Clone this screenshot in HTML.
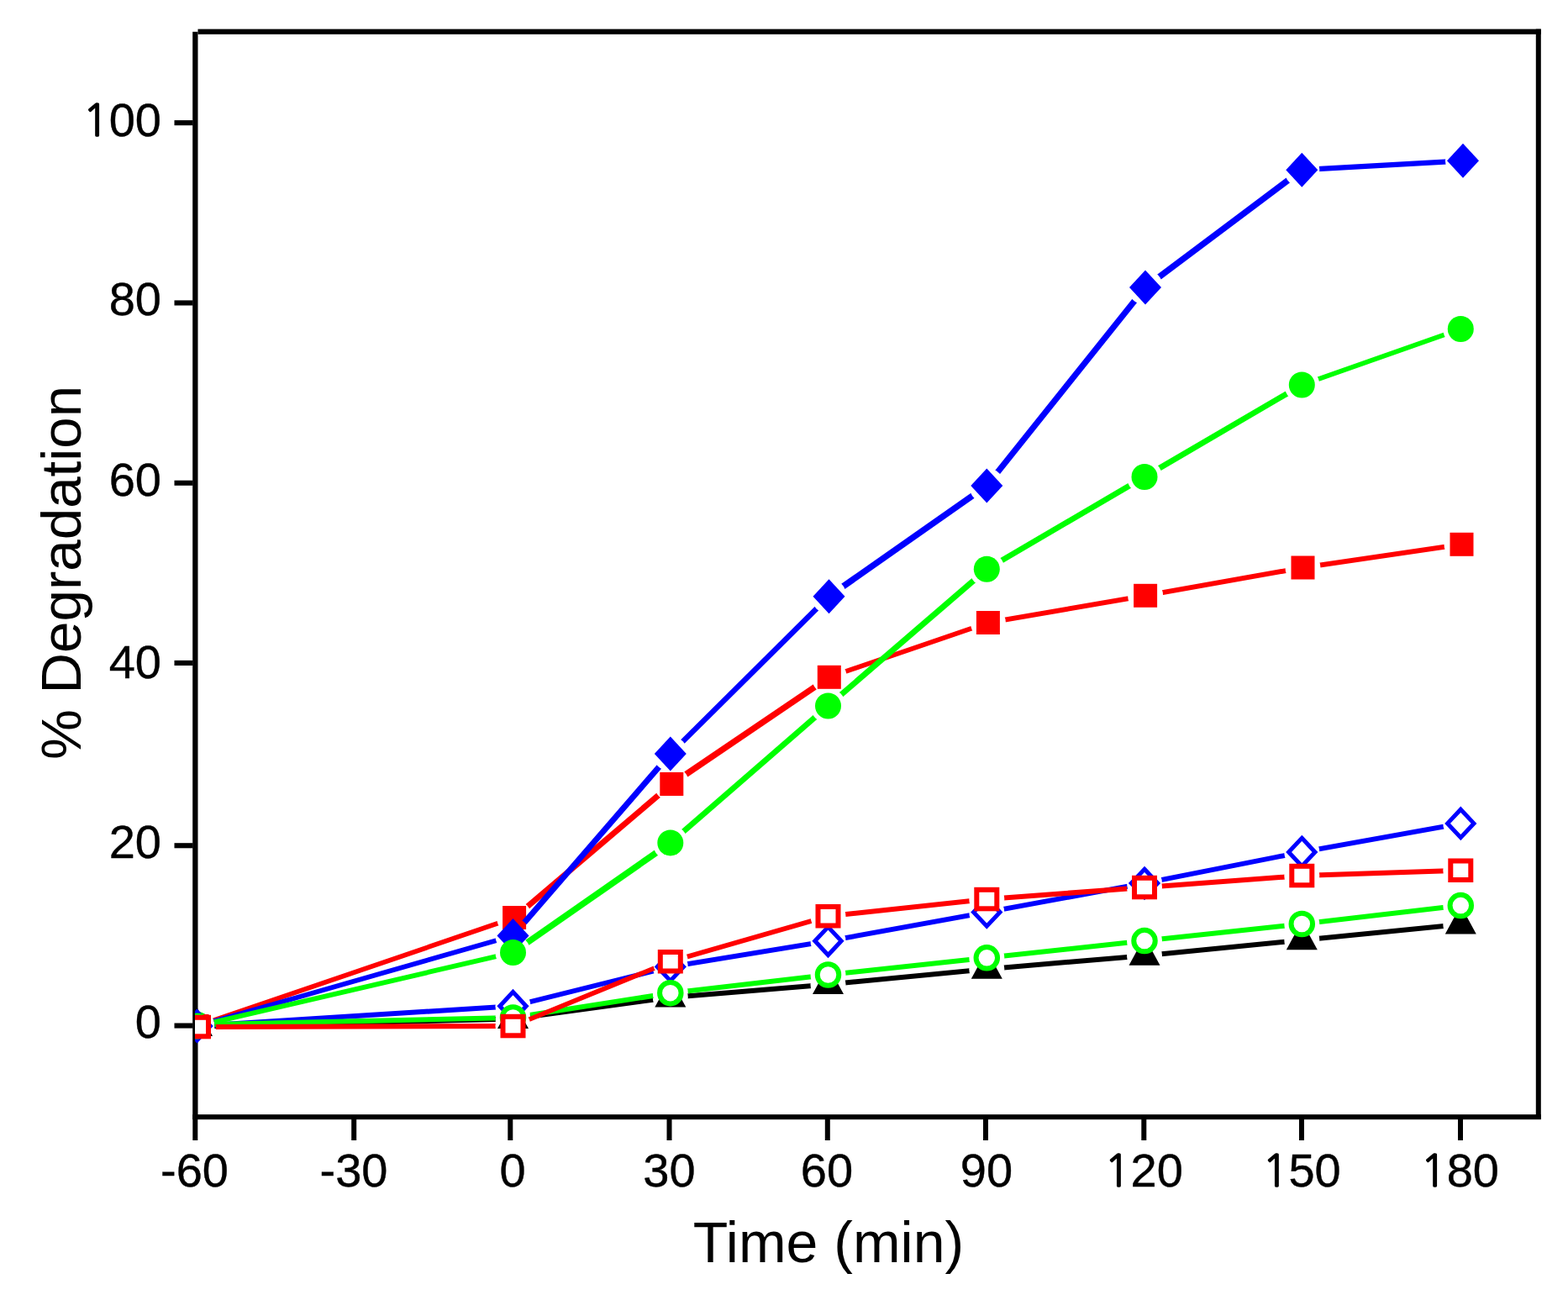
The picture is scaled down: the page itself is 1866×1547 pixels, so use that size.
<!DOCTYPE html>
<html><head><meta charset="utf-8"><title>% Degradation vs Time</title>
<style>
html,body{margin:0;padding:0;background:#fff;}
body{width:1866px;height:1547px;overflow:hidden;}
svg{display:block;}
.t{font-family:"Liberation Sans",Arial,sans-serif;font-size:56px;fill:#000;stroke:#000;stroke-width:0.4px;}
.one{font-family:NanumGothic,"Liberation Sans",sans-serif;font-size:52px;stroke-width:1.3px;}
.a{font-family:"Liberation Sans",Arial,sans-serif;font-size:68px;fill:#000;}
</style></head>
<body>
<svg width="1866" height="1547" viewBox="0 0 1866 1547">
<rect width="1866" height="1547" fill="#fff"/>
<defs><mask id="mKT" maskUnits="userSpaceOnUse" x="0" y="0" width="1866" height="1547"><rect width="1866" height="1547" fill="#fff"/><circle cx="234.5" cy="1221.5" r="21.0" fill="#000"/><circle cx="610.5" cy="1212.5" r="21.0" fill="#000"/><circle cx="797.8" cy="1187.0" r="21.0" fill="#000"/><circle cx="985.5" cy="1171.5" r="21.0" fill="#000"/><circle cx="1174.3" cy="1153.2" r="21.0" fill="#000"/><circle cx="1362.0" cy="1137.2" r="21.0" fill="#000"/><circle cx="1549.3" cy="1118.7" r="21.0" fill="#000"/><circle cx="1738.3" cy="1100.1" r="21.0" fill="#000"/></mask>
<mask id="mBO" maskUnits="userSpaceOnUse" x="0" y="0" width="1866" height="1547"><rect width="1866" height="1547" fill="#fff"/><circle cx="234.5" cy="1221.0" r="21.0" fill="#000"/><circle cx="610.5" cy="1197.2" r="21.0" fill="#000"/><circle cx="797.8" cy="1150.5" r="21.0" fill="#000"/><circle cx="985.5" cy="1119.8" r="21.0" fill="#000"/><circle cx="1174.3" cy="1085.5" r="21.0" fill="#000"/><circle cx="1362.0" cy="1051.0" r="21.0" fill="#000"/><circle cx="1549.3" cy="1014.0" r="21.0" fill="#000"/><circle cx="1738.3" cy="979.9" r="21.0" fill="#000"/></mask>
<mask id="mGO" maskUnits="userSpaceOnUse" x="0" y="0" width="1866" height="1547"><rect width="1866" height="1547" fill="#fff"/><circle cx="234.5" cy="1219.5" r="21.0" fill="#000"/><circle cx="610.5" cy="1211.0" r="21.0" fill="#000"/><circle cx="797.8" cy="1181.7" r="21.0" fill="#000"/><circle cx="985.5" cy="1160.0" r="21.0" fill="#000"/><circle cx="1174.3" cy="1139.8" r="21.0" fill="#000"/><circle cx="1362.0" cy="1119.6" r="21.0" fill="#000"/><circle cx="1549.3" cy="1099.5" r="21.0" fill="#000"/><circle cx="1738.3" cy="1077.6" r="21.0" fill="#000"/></mask>
<mask id="mRS" maskUnits="userSpaceOnUse" x="0" y="0" width="1866" height="1547"><rect width="1866" height="1547" fill="#fff"/><circle cx="234.5" cy="1221.0" r="21.0" fill="#000"/><circle cx="612.1" cy="1092.0" r="21.0" fill="#000"/><circle cx="799.3" cy="933.0" r="21.0" fill="#000"/><circle cx="986.8" cy="805.8" r="21.0" fill="#000"/><circle cx="1175.9" cy="741.0" r="21.0" fill="#000"/><circle cx="1363.1" cy="708.8" r="21.0" fill="#000"/><circle cx="1550.5" cy="675.5" r="21.0" fill="#000"/><circle cx="1739.5" cy="647.8" r="21.0" fill="#000"/></mask>
<mask id="mBD" maskUnits="userSpaceOnUse" x="0" y="0" width="1866" height="1547"><rect width="1866" height="1547" fill="#fff"/><circle cx="234.5" cy="1221.0" r="21.0" fill="#000"/><circle cx="610.5" cy="1113.5" r="21.0" fill="#000"/><circle cx="797.8" cy="897.0" r="21.0" fill="#000"/><circle cx="986.5" cy="709.7" r="21.0" fill="#000"/><circle cx="1174.3" cy="578.0" r="21.0" fill="#000"/><circle cx="1363.0" cy="341.9" r="21.0" fill="#000"/><circle cx="1549.3" cy="202.2" r="21.0" fill="#000"/><circle cx="1741.0" cy="191.3" r="21.0" fill="#000"/></mask>
<mask id="mGC" maskUnits="userSpaceOnUse" x="0" y="0" width="1866" height="1547"><rect width="1866" height="1547" fill="#fff"/><circle cx="234.5" cy="1221.0" r="21.0" fill="#000"/><circle cx="610.5" cy="1133.5" r="21.0" fill="#000"/><circle cx="797.8" cy="1003.0" r="21.0" fill="#000"/><circle cx="985.5" cy="840.0" r="21.0" fill="#000"/><circle cx="1174.3" cy="677.3" r="21.0" fill="#000"/><circle cx="1362.0" cy="567.5" r="21.0" fill="#000"/><circle cx="1549.3" cy="458.0" r="21.0" fill="#000"/><circle cx="1738.3" cy="391.5" r="21.0" fill="#000"/></mask>
<mask id="mRO" maskUnits="userSpaceOnUse" x="0" y="0" width="1866" height="1547"><rect width="1866" height="1547" fill="#fff"/><circle cx="236.0" cy="1222.0" r="21.0" fill="#000"/><circle cx="610.5" cy="1221.0" r="21.0" fill="#000"/><circle cx="797.8" cy="1144.3" r="21.0" fill="#000"/><circle cx="985.5" cy="1090.3" r="21.0" fill="#000"/><circle cx="1174.3" cy="1070.1" r="21.0" fill="#000"/><circle cx="1362.0" cy="1056.0" r="21.0" fill="#000"/><circle cx="1549.3" cy="1042.0" r="21.0" fill="#000"/><circle cx="1738.3" cy="1035.8" r="21.0" fill="#000"/></mask><clipPath id="pa"><rect x="232" y="38" width="1599" height="1291"/></clipPath></defs>
<rect x="229.2" y="37.8" width="6.3" height="1294.2" fill="#000"/>
<rect x="235.5" y="34.6" width="1598.3" height="6.2" fill="#000"/>
<rect x="1827.8" y="34.6" width="6" height="1297.4" fill="#000"/>
<rect x="229.2" y="1326.2" width="1604.6" height="6" fill="#000"/>
<rect x="207.5" y="1217.5" width="22" height="6.1" fill="#000"/>
<rect x="207.5" y="1003.2" width="22" height="6.1" fill="#000"/>
<rect x="207.5" y="785.9" width="22" height="6.1" fill="#000"/>
<rect x="207.5" y="571.7" width="22" height="6.1" fill="#000"/>
<rect x="207.5" y="357.4" width="22" height="6.1" fill="#000"/>
<rect x="207.5" y="143.1" width="22" height="6.1" fill="#000"/>
<rect x="229.3" y="1332" width="6" height="25" fill="#000"/>
<rect x="418.2" y="1332" width="6" height="25" fill="#000"/>
<rect x="604.3" y="1332" width="6" height="25" fill="#000"/>
<rect x="793.5" y="1332" width="6" height="25" fill="#000"/>
<rect x="981.8" y="1332" width="6" height="25" fill="#000"/>
<rect x="1170.0" y="1332" width="6" height="25" fill="#000"/>
<rect x="1358.3" y="1332" width="6" height="25" fill="#000"/>
<rect x="1546.0" y="1332" width="6" height="25" fill="#000"/>
<rect x="1735.0" y="1332" width="6" height="25" fill="#000"/>
<g clip-path="url(#pa)">
<g><g mask="url(#mKT)"><polygon points="234.5,1218.5 610.5,1209.5 610.5,1215.5 234.5,1224.5" fill="#000000"/><polygon points="610.5,1209.5 797.8,1184.0 797.8,1190.0 610.5,1215.5" fill="#000000"/><polygon points="797.8,1184.0 985.5,1168.5 985.5,1174.5 797.8,1190.0" fill="#000000"/><polygon points="985.5,1168.5 1174.3,1150.2 1174.3,1156.2 985.5,1174.5" fill="#000000"/><polygon points="1174.3,1150.2 1362.0,1134.2 1362.0,1140.2 1174.3,1156.2" fill="#000000"/><polygon points="1362.0,1134.2 1549.3,1115.7 1549.3,1121.8 1362.0,1140.2" fill="#000000"/><polygon points="1549.3,1115.7 1738.3,1097.0 1738.3,1103.1 1549.3,1121.8" fill="#000000"/></g><polygon points="216.0,1233.0 253.0,1233.0 234.5,1199.0" fill="#000000"/><polygon points="592.0,1224.0 629.0,1224.0 610.5,1190.0" fill="#000000"/><polygon points="779.3,1198.5 816.3,1198.5 797.8,1164.5" fill="#000000"/><polygon points="967.0,1183.0 1004.0,1183.0 985.5,1149.0" fill="#000000"/><polygon points="1155.8,1164.7 1192.8,1164.7 1174.3,1130.7" fill="#000000"/><polygon points="1343.5,1148.7 1380.5,1148.7 1362.0,1114.7" fill="#000000"/><polygon points="1530.8,1130.2 1567.8,1130.2 1549.3,1096.2" fill="#000000"/><polygon points="1719.8,1111.6 1756.8,1111.6 1738.3,1077.6" fill="#000000"/></g>
<g><g mask="url(#mBO)"><polygon points="234.5,1218.0 610.5,1194.2 610.5,1200.2 234.5,1224.0" fill="#0000ff"/><polygon points="610.5,1194.2 797.8,1147.5 797.8,1153.5 610.5,1200.2" fill="#0000ff"/><polygon points="797.8,1147.5 985.5,1116.8 985.5,1122.8 797.8,1153.5" fill="#0000ff"/><polygon points="985.5,1116.8 1174.3,1082.5 1174.3,1088.5 985.5,1122.8" fill="#0000ff"/><polygon points="1174.3,1082.5 1362.0,1048.0 1362.0,1054.0 1174.3,1088.5" fill="#0000ff"/><polygon points="1362.0,1048.0 1549.3,1011.0 1549.3,1017.0 1362.0,1054.0" fill="#0000ff"/><polygon points="1549.3,1011.0 1738.3,976.9 1738.3,982.9 1549.3,1017.0" fill="#0000ff"/></g><polygon points="234.5,1204.3 250.2,1221.0 234.5,1237.7 218.8,1221.0" fill="#fff" stroke="#0000ff" stroke-width="5.0"/><polygon points="610.5,1180.5 626.2,1197.2 610.5,1213.9 594.8,1197.2" fill="#fff" stroke="#0000ff" stroke-width="5.0"/><polygon points="797.8,1133.8 813.5,1150.5 797.8,1167.2 782.1,1150.5" fill="#fff" stroke="#0000ff" stroke-width="5.0"/><polygon points="985.5,1103.1 1001.2,1119.8 985.5,1136.5 969.8,1119.8" fill="#fff" stroke="#0000ff" stroke-width="5.0"/><polygon points="1174.3,1068.8 1190.0,1085.5 1174.3,1102.2 1158.6,1085.5" fill="#fff" stroke="#0000ff" stroke-width="5.0"/><polygon points="1362.0,1034.3 1377.7,1051.0 1362.0,1067.7 1346.3,1051.0" fill="#fff" stroke="#0000ff" stroke-width="5.0"/><polygon points="1549.3,997.3 1565.0,1014.0 1549.3,1030.7 1533.6,1014.0" fill="#fff" stroke="#0000ff" stroke-width="5.0"/><polygon points="1738.3,963.2 1754.0,979.9 1738.3,996.6 1722.6,979.9" fill="#fff" stroke="#0000ff" stroke-width="5.0"/></g>
<g><g mask="url(#mGO)"><polygon points="234.5,1216.5 610.5,1208.0 610.5,1214.0 234.5,1222.5" fill="#00ff00"/><polygon points="610.5,1208.0 797.8,1178.7 797.8,1184.8 610.5,1214.0" fill="#00ff00"/><polygon points="797.8,1178.7 985.5,1157.0 985.5,1163.0 797.8,1184.8" fill="#00ff00"/><polygon points="985.5,1157.0 1174.3,1136.8 1174.3,1142.8 985.5,1163.0" fill="#00ff00"/><polygon points="1174.3,1136.8 1362.0,1116.5 1362.0,1122.6 1174.3,1142.8" fill="#00ff00"/><polygon points="1362.0,1116.5 1549.3,1096.5 1549.3,1102.5 1362.0,1122.6" fill="#00ff00"/><polygon points="1549.3,1096.5 1738.3,1074.5 1738.3,1080.6 1549.3,1102.5" fill="#00ff00"/></g><circle cx="234.5" cy="1219.5" r="12.75" fill="#fff" stroke="#00ff00" stroke-width="6"/><circle cx="610.5" cy="1211.0" r="12.75" fill="#fff" stroke="#00ff00" stroke-width="6"/><circle cx="797.8" cy="1181.7" r="12.75" fill="#fff" stroke="#00ff00" stroke-width="6"/><circle cx="985.5" cy="1160.0" r="12.75" fill="#fff" stroke="#00ff00" stroke-width="6"/><circle cx="1174.3" cy="1139.8" r="12.75" fill="#fff" stroke="#00ff00" stroke-width="6"/><circle cx="1362.0" cy="1119.6" r="12.75" fill="#fff" stroke="#00ff00" stroke-width="6"/><circle cx="1549.3" cy="1099.5" r="12.75" fill="#fff" stroke="#00ff00" stroke-width="6"/><circle cx="1738.3" cy="1077.6" r="12.75" fill="#fff" stroke="#00ff00" stroke-width="6"/></g>
<g><g mask="url(#mRS)"><polygon points="234.5,1218.0 612.1,1089.0 612.1,1095.0 234.5,1224.0" fill="#ff0000"/><polygon points="612.1,1087.4 799.3,928.4 799.3,937.6 612.1,1096.6" fill="#ff0000"/><polygon points="799.3,928.6 986.8,801.4 986.8,810.2 799.3,937.4" fill="#ff0000"/><polygon points="986.8,802.8 1175.9,738.0 1175.9,744.0 986.8,808.8" fill="#ff0000"/><polygon points="1175.9,738.0 1363.1,705.8 1363.1,711.8 1175.9,744.0" fill="#ff0000"/><polygon points="1363.1,705.8 1550.5,672.5 1550.5,678.5 1363.1,711.8" fill="#ff0000"/><polygon points="1550.5,672.5 1739.5,644.8 1739.5,650.8 1550.5,678.5" fill="#ff0000"/></g><rect x="220.5" y="1207.0" width="28" height="28" fill="#ff0000"/><rect x="598.1" y="1078.0" width="28" height="28" fill="#ff0000"/><rect x="785.3" y="919.0" width="28" height="28" fill="#ff0000"/><rect x="972.8" y="791.8" width="28" height="28" fill="#ff0000"/><rect x="1161.9" y="727.0" width="28" height="28" fill="#ff0000"/><rect x="1349.1" y="694.8" width="28" height="28" fill="#ff0000"/><rect x="1536.5" y="661.5" width="28" height="28" fill="#ff0000"/><rect x="1725.5" y="633.8" width="28" height="28" fill="#ff0000"/></g>
<g><g mask="url(#mBD)"><polygon points="234.5,1218.0 610.5,1110.5 610.5,1116.5 234.5,1224.0" fill="#0000ff"/><polygon points="605.9,1113.5 793.2,897.0 802.4,897.0 615.1,1113.5" fill="#0000ff"/><polygon points="797.8,892.4 986.5,705.1 986.5,714.3 797.8,901.6" fill="#0000ff"/><polygon points="986.5,705.1 1174.3,573.4 1174.3,582.6 986.5,714.3" fill="#0000ff"/><polygon points="1169.7,578.0 1358.4,341.9 1367.6,341.9 1178.9,578.0" fill="#0000ff"/><polygon points="1363.0,337.3 1549.3,197.6 1549.3,206.8 1363.0,346.5" fill="#0000ff"/><polygon points="1549.3,199.1 1741.0,188.2 1741.0,194.4 1549.3,205.2" fill="#0000ff"/></g><polygon points="234.5,1200.5 253.5,1221.0 234.5,1241.5 215.5,1221.0" fill="#0000ff"/><polygon points="610.5,1093.0 629.5,1113.5 610.5,1134.0 591.5,1113.5" fill="#0000ff"/><polygon points="797.8,876.5 816.8,897.0 797.8,917.5 778.8,897.0" fill="#0000ff"/><polygon points="986.5,689.2 1005.5,709.7 986.5,730.2 967.5,709.7" fill="#0000ff"/><polygon points="1174.3,557.5 1193.3,578.0 1174.3,598.5 1155.3,578.0" fill="#0000ff"/><polygon points="1363.0,321.4 1382.0,341.9 1363.0,362.4 1344.0,341.9" fill="#0000ff"/><polygon points="1549.3,181.7 1568.3,202.2 1549.3,222.7 1530.3,202.2" fill="#0000ff"/><polygon points="1741.0,170.8 1760.0,191.3 1741.0,211.8 1722.0,191.3" fill="#0000ff"/></g>
<g><g mask="url(#mGC)"><polygon points="234.5,1218.0 610.5,1130.5 610.5,1136.5 234.5,1224.0" fill="#00ff00"/><polygon points="610.5,1128.9 797.8,998.4 797.8,1007.6 610.5,1138.1" fill="#00ff00"/><polygon points="797.8,998.4 985.5,835.4 985.5,844.6 797.8,1007.6" fill="#00ff00"/><polygon points="985.5,835.4 1174.3,672.7 1174.3,681.9 985.5,844.6" fill="#00ff00"/><polygon points="1174.3,673.4 1362.0,563.6 1362.0,571.4 1174.3,681.2" fill="#00ff00"/><polygon points="1362.0,563.6 1549.3,454.1 1549.3,461.9 1362.0,571.4" fill="#00ff00"/><polygon points="1549.3,454.9 1738.3,388.4 1738.3,394.6 1549.3,461.1" fill="#00ff00"/></g><circle cx="234.5" cy="1221.0" r="15.5" fill="#00ff00"/><circle cx="610.5" cy="1133.5" r="15.5" fill="#00ff00"/><circle cx="797.8" cy="1003.0" r="15.5" fill="#00ff00"/><circle cx="985.5" cy="840.0" r="15.5" fill="#00ff00"/><circle cx="1174.3" cy="677.3" r="15.5" fill="#00ff00"/><circle cx="1362.0" cy="567.5" r="15.5" fill="#00ff00"/><circle cx="1549.3" cy="458.0" r="15.5" fill="#00ff00"/><circle cx="1738.3" cy="391.5" r="15.5" fill="#00ff00"/></g>
<g><g mask="url(#mRO)"><polygon points="236.0,1219.0 610.5,1218.0 610.5,1224.0 236.0,1225.0" fill="#ff0000"/><polygon points="610.5,1218.0 797.8,1141.2 797.8,1147.3 610.5,1224.0" fill="#ff0000"/><polygon points="797.8,1141.2 985.5,1087.2 985.5,1093.3 797.8,1147.3" fill="#ff0000"/><polygon points="985.5,1087.2 1174.3,1067.0 1174.3,1073.1 985.5,1093.3" fill="#ff0000"/><polygon points="1174.3,1067.0 1362.0,1053.0 1362.0,1059.0 1174.3,1073.1" fill="#ff0000"/><polygon points="1362.0,1053.0 1549.3,1039.0 1549.3,1045.0 1362.0,1059.0" fill="#ff0000"/><polygon points="1549.3,1039.0 1738.3,1032.8 1738.3,1038.8 1549.3,1045.0" fill="#ff0000"/></g><rect x="224.0" y="1210.8" width="24.0" height="22.5" fill="#fff" stroke="#ff0000" stroke-width="6"/><rect x="598.5" y="1209.8" width="24.0" height="22.5" fill="#fff" stroke="#ff0000" stroke-width="6"/><rect x="785.8" y="1133.0" width="24.0" height="22.5" fill="#fff" stroke="#ff0000" stroke-width="6"/><rect x="973.5" y="1079.0" width="24.0" height="22.5" fill="#fff" stroke="#ff0000" stroke-width="6"/><rect x="1162.3" y="1058.8" width="24.0" height="22.5" fill="#fff" stroke="#ff0000" stroke-width="6"/><rect x="1350.0" y="1044.8" width="24.0" height="22.5" fill="#fff" stroke="#ff0000" stroke-width="6"/><rect x="1537.3" y="1030.8" width="24.0" height="22.5" fill="#fff" stroke="#ff0000" stroke-width="6"/><rect x="1726.3" y="1024.5" width="24.0" height="22.5" fill="#fff" stroke="#ff0000" stroke-width="6"/></g>
</g>
<text x="192.0" y="1235.1" text-anchor="end" class="t">0</text>
<text x="192.0" y="1021.2" text-anchor="end" class="t">20</text>
<text x="192.0" y="806.9" text-anchor="end" class="t">40</text>
<text x="192.0" y="589.7" text-anchor="end" class="t">60</text>
<text x="192.0" y="375.3" text-anchor="end" class="t">80</text>
<text x="192.0" y="161.5" text-anchor="end" class="t"><tspan class="one">1</tspan>00</text>
<text x="231.5" y="1412.3" text-anchor="middle" class="t">-60</text>
<text x="421.0" y="1412.3" text-anchor="middle" class="t">-30</text>
<text x="610.0" y="1412.3" text-anchor="middle" class="t">0</text>
<text x="796.5" y="1412.3" text-anchor="middle" class="t">30</text>
<text x="984.0" y="1412.3" text-anchor="middle" class="t">60</text>
<text x="1173.9" y="1412.3" text-anchor="middle" class="t">90</text>
<text x="1361.0" y="1412.3" text-anchor="middle" class="t"><tspan class="one">1</tspan>20</text>
<text x="1548.8" y="1412.3" text-anchor="middle" class="t"><tspan class="one">1</tspan>50</text>
<text x="1737.1" y="1412.3" text-anchor="middle" class="t"><tspan class="one">1</tspan>80</text>
<text x="986" y="1501.5" text-anchor="middle" class="a">Time (min)</text>
<text transform="translate(95.8,681.5) rotate(-90)" x="0" y="0" text-anchor="middle" class="a" style="font-size:67.3px">% Degradation</text>
</svg>
</body></html>
